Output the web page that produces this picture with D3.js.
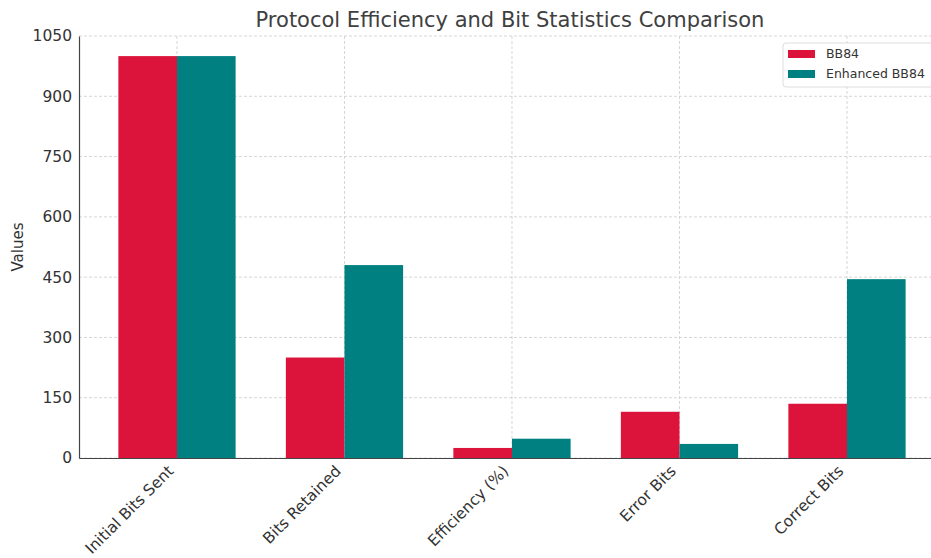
<!DOCTYPE html>
<html><head><meta charset="utf-8">
<script src="https://cdn.jsdelivr.net/npm/d3@7"></script>
<style>body{margin:0;background:#fff;} text{font-family:"DejaVu Sans",sans-serif;}</style>
</head><body><svg id="c" width="931" height="558"></svg>
<script>
const categories = ["Initial Bits Sent","Bits Retained","Efficiency (%)","Error Bits","Correct Bits"];
const seriesNames = ["BB84","Enhanced BB84"];
const bb84 = [1000, 250, 25, 115, 135];
const enhanced = [1000, 480, 48, 35, 445];
const yTicks = [0,150,300,450,600,750,900,1050];
const colors = ["#DC143C","#008080"];

(function(){
const svg = d3.select("#c");
const mLeft = 79, mTop = 36, mBottom = 458;
const barW = 0.35;
const x = d3.scaleLinear().domain([-0.585, 4.585]).range([mLeft, mLeft + 5.17*167.5]);
const y = d3.scaleLinear().domain([0,1050]).range([mBottom, mTop]);
const textCol = "#333";

// grid
svg.append("g").selectAll("line").data(yTicks).join("line")
  .attr("x1", mLeft).attr("x2", 931).attr("y1", d=>y(d)).attr("y2", d=>y(d))
  .attr("stroke","#ccc").attr("stroke-width",0.8).attr("stroke-dasharray","3,2");
svg.append("g").selectAll("line").data(categories).join("line")
  .attr("x1",(d,i)=>x(i)).attr("x2",(d,i)=>x(i)).attr("y1",mTop).attr("y2",mBottom)
  .attr("stroke","#ccc").attr("stroke-width",0.8).attr("stroke-dasharray","3,2");

// bars
const series = [bb84, enhanced];
series.forEach((vals, s) => {
  svg.append("g").selectAll("rect").data(vals).join("rect")
    .attr("x", (d,i)=> x(i + (s===0 ? -barW : 0)))
    .attr("width", x(barW) - x(0))
    .attr("y", d=>y(d)).attr("height", d=> y(0)-y(d))
    .attr("fill", colors[s]);
});

// axes
const yAxis = d3.axisLeft(y).tickValues(yTicks).tickFormat(d3.format("d")).tickSize(0).tickPadding(7);
const gy = svg.append("g").attr("transform",`translate(${mLeft},0)`).call(yAxis);
gy.select(".domain").attr("stroke","#444").attr("stroke-width",1.2);
gy.selectAll("text").attr("font-size",15.5).attr("fill",textCol).attr("font-family","DejaVu Sans");

const xAxis = d3.axisBottom(x).tickValues(d3.range(categories.length)).tickFormat(i=>categories[i]).tickSize(0).tickPadding(0);
const gx = svg.append("g").attr("transform",`translate(0,${mBottom})`).call(xAxis);
gx.select(".domain").attr("stroke","#444").attr("stroke-width",1.2);
gx.selectAll("text").attr("font-size",15.5).attr("fill",textCol).attr("font-family","DejaVu Sans")
  .attr("text-anchor","end").attr("dy",0)
  .attr("transform","translate(-3,14) rotate(-45)");

// labels
svg.append("text").attr("x", 510).attr("y", 27).attr("text-anchor","middle")
  .attr("font-size",21).attr("fill","#404040").text("Protocol Efficiency and Bit Statistics Comparison");
svg.append("text").attr("transform","translate(23,247) rotate(-90)").attr("text-anchor","middle")
  .attr("font-size",15).attr("fill",textCol).text("Values");

// legend
const lg = svg.append("g");
lg.append("rect").attr("x",783).attr("y",43).attr("width",170).attr("height",44).attr("rx",3)
  .attr("fill","#fff").attr("fill-opacity",0.85).attr("stroke","#ddd");
seriesNames.forEach((n,i)=>{
  lg.append("rect").attr("x",788).attr("y",50+i*20).attr("width",27).attr("height",8).attr("fill",colors[i]);
  lg.append("text").attr("x",826).attr("y",58+i*20).attr("font-size",12.5).attr("fill",textCol).text(n);
});
})();
</script></body></html>
